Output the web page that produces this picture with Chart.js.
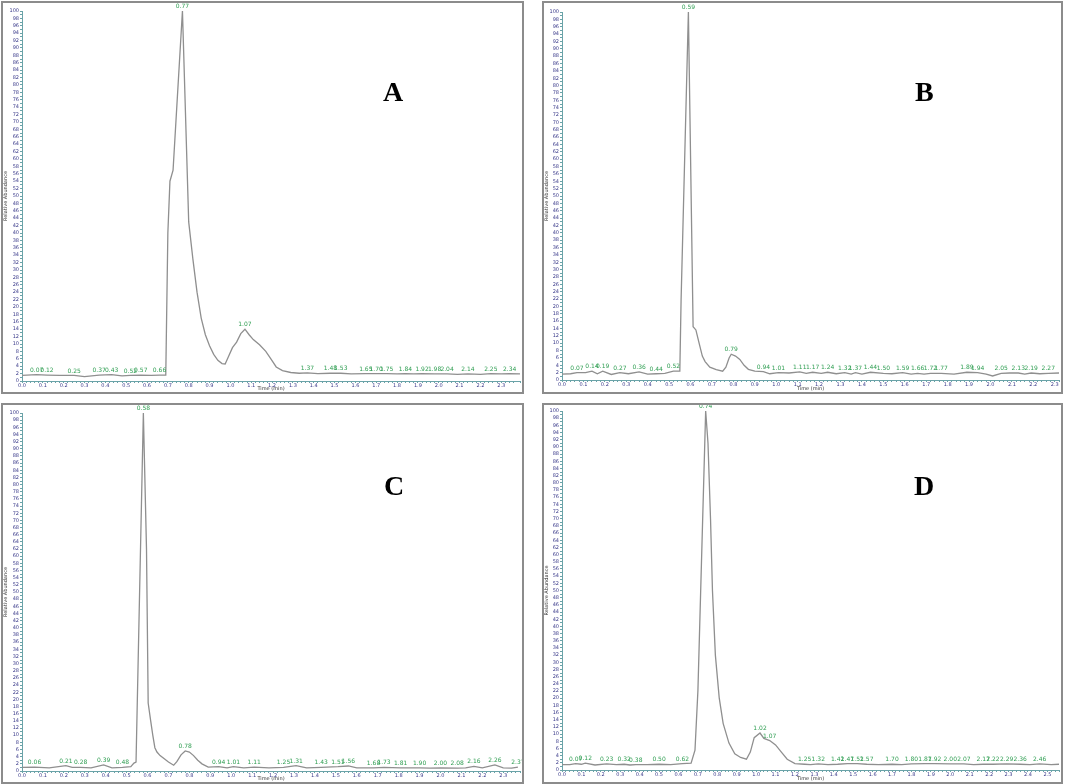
<!DOCTYPE html>
<html>
<head>
<meta charset="utf-8">
<script src="https://cdn.jsdelivr.net/npm/chart.js@4.4.1/dist/chart.umd.min.js"></script>
<style>
  body { margin: 0; background: #fff; width: 1065px; height: 784px; position: relative; overflow: hidden; }
  .panel { position: absolute; border: 2px solid #8c8c8c; box-sizing: border-box; }
  .panel canvas { position: absolute; left: 0; top: 0; }
  .tag { position: absolute; font: bold 28px "Liberation Serif", serif; color: #000; }
</style>
</head>
<body>
<div class="panel" style="left:1px;top:1px;width:523px;height:393px"><canvas id="chartA" width="519" height="389"></canvas></div>
<div class="panel" style="left:542px;top:1px;width:521px;height:393px"><canvas id="chartB" width="517" height="389"></canvas></div>
<div class="panel" style="left:1px;top:403px;width:523px;height:381px"><canvas id="chartC" width="519" height="377"></canvas></div>
<div class="panel" style="left:542px;top:403px;width:521px;height:381px"><canvas id="chartD" width="517" height="377"></canvas></div>
<div class="tag" style="left:383px;top:76px">A</div>
<div class="tag" style="left:915px;top:76px">B</div>
<div class="tag" style="left:384px;top:470px">C</div>
<div class="tag" style="left:914px;top:470px">D</div>
<script>
// retention time (min) and relative abundance
const timeA = [0.00, 0.07, 0.12, 0.18, 0.25, 0.30, 0.37, 0.43, 0.48, 0.52, 0.57, 0.62, 0.66, 0.69, 0.70, 0.71,
  0.725, 0.77, 0.80, 0.82, 0.84, 0.86, 0.88, 0.90, 0.92, 0.94, 0.96, 0.975, 0.99, 1.01, 1.03, 1.05, 1.07,
  1.09, 1.11, 1.14, 1.17, 1.20, 1.22, 1.25, 1.29, 1.33, 1.37, 1.42, 1.48, 1.53, 1.58, 1.65, 1.70, 1.75, 1.80,
  1.84, 1.88, 1.92, 1.98, 2.04, 2.09, 2.14, 2.20, 2.25, 2.30, 2.34, 2.39];
const abundA = [1.5, 1.7, 1.6, 1.5, 1.5, 1.2, 1.6, 1.7, 1.4, 1.5, 1.6, 1.5, 1.6, 1.6, 40, 54,
  57, 100, 43, 33, 24, 17, 12.5, 9.5, 7.2, 5.6, 4.7, 4.6, 6.5, 9, 10.5, 12.8, 14,
  12.5, 11.2, 9.8, 8, 5.5, 3.8, 2.8, 2.3, 2.1, 2.2, 2.0, 2.1, 2.1, 1.9, 2.0, 2.0, 2.0, 1.9,
  2.0, 1.9, 2.0, 1.9, 1.9, 1.8, 1.9, 1.8, 2.0, 1.9, 2.0, 1.9];
const peaksA = [0.07, 0.12, 0.25, 0.37, 0.43, 0.52, 0.57, 0.66, 0.77, 1.07, 1.37, 1.48, 1.53, 1.65, 1.70, 1.75,
  1.84, 1.92, 1.98, 2.04, 2.14, 2.25, 2.34];

const timeB = [0.00, 0.04, 0.07, 0.11, 0.14, 0.165, 0.19, 0.23, 0.27, 0.31, 0.36, 0.40, 0.44, 0.48, 0.52, 0.55,
  0.556, 0.59, 0.612, 0.625, 0.64, 0.655, 0.668, 0.69, 0.72, 0.75, 0.765, 0.78, 0.79, 0.81, 0.83, 0.85, 0.87,
  0.90, 0.94, 0.97, 1.01, 1.06, 1.11, 1.14, 1.17, 1.21, 1.24, 1.28, 1.32, 1.35, 1.37, 1.40, 1.44, 1.50, 1.54,
  1.59, 1.63, 1.66, 1.69, 1.72, 1.77, 1.83, 1.89, 1.94, 1.98, 2.01, 2.05, 2.09, 2.13, 2.16, 2.19, 2.23, 2.27,
  2.32];
const abundB = [1.6, 1.7, 2.0, 2.0, 2.4, 1.7, 2.4, 1.5, 2.0, 1.7, 2.2, 1.6, 1.7, 1.8, 2.4, 2.4,
  22, 100, 14.5, 13.6, 10, 6.5, 5, 3.5, 2.8, 2.4, 3.5, 6, 7, 6.5, 5.6, 4, 2.9,
  2.4, 2.3, 1.7, 2.0, 1.9, 2.2, 1.8, 2.1, 1.8, 2.1, 1.7, 2.0, 1.6, 2.0, 1.6, 2.1, 1.8, 1.7,
  2.0, 1.6, 1.8, 1.6, 1.8, 1.8, 1.6, 2.1, 2.0, 1.6, 1.1, 1.8, 1.9, 1.9, 1.6, 1.9, 1.7, 1.8,
  1.9];
const peaksB = [0.07, 0.14, 0.19, 0.27, 0.36, 0.44, 0.52, 0.59, 0.79, 0.94, 1.01, 1.11, 1.17, 1.24, 1.32, 1.37,
  1.44, 1.50, 1.59, 1.66, 1.72, 1.77, 1.89, 1.94, 2.05, 2.13, 2.19, 2.27];

const timeC = [0.00, 0.06, 0.13, 0.21, 0.24, 0.28, 0.33, 0.39, 0.43, 0.48, 0.52, 0.535, 0.545, 0.58, 0.595, 0.603,
  0.615, 0.625, 0.635, 0.645, 0.66, 0.68, 0.70, 0.725, 0.74, 0.76, 0.78, 0.80, 0.82, 0.84, 0.86, 0.89, 0.94,
  0.98, 1.01, 1.06, 1.11, 1.18, 1.25, 1.31, 1.36, 1.43, 1.51, 1.56, 1.60, 1.68, 1.73, 1.81, 1.90, 1.95, 2.00,
  2.08, 2.12, 2.16, 2.20, 2.26, 2.30, 2.34, 2.37];
const abundC = [1.0, 1.1, 0.9, 1.5, 1.0, 1.0, 0.9, 1.7, 0.9, 1.0, 1.2, 2.2, 2.5, 100, 62, 19,
  14, 10, 6.5, 5.3, 4.3, 3.4, 2.5, 1.6, 2.6, 4.5, 5.6, 5.3, 4.3, 3.0, 2.0, 1.1, 1.2,
  0.9, 1.2, 0.9, 1.1, 0.9, 1.0, 1.5, 0.9, 1.0, 1.2, 1.4, 0.9, 0.9, 1.0, 0.9, 0.9, 0.8, 0.9,
  0.8, 0.9, 1.3, 0.9, 1.7, 0.9, 0.8, 1.1];
const peaksC = [0.06, 0.21, 0.28, 0.39, 0.48, 0.58, 0.78, 0.94, 1.01, 1.11, 1.25, 1.31, 1.43, 1.51, 1.56, 1.68,
  1.73, 1.81, 1.90, 2.00, 2.08, 2.16, 2.26, 2.37];

const timeD = [0.00, 0.04, 0.07, 0.10, 0.12, 0.17, 0.23, 0.28, 0.32, 0.35, 0.38, 0.44, 0.50, 0.56, 0.62, 0.665,
  0.685, 0.70, 0.74, 0.752, 0.765, 0.775, 0.79, 0.81, 0.83, 0.86, 0.89, 0.92, 0.95, 0.97, 0.99, 1.02, 1.04,
  1.07, 1.10, 1.13, 1.16, 1.20, 1.25, 1.28, 1.32, 1.37, 1.42, 1.47, 1.52, 1.57, 1.63, 1.70, 1.75, 1.80, 1.87,
  1.92, 2.00, 2.07, 2.12, 2.17, 2.22, 2.29, 2.36, 2.41, 2.46, 2.52, 2.56];
const abundD = [1.5, 1.5, 1.8, 1.6, 1.9, 1.4, 1.7, 1.5, 1.6, 1.4, 1.5, 1.5, 1.6, 1.5, 1.8, 1.9,
  5.5, 22, 100, 91, 70, 50, 32, 20, 13, 7.5, 4.5, 3.5, 3.0, 5, 9, 10.3, 8.8,
  8.2, 7.0, 5.0, 3.0, 1.8, 1.6, 1.5, 1.7, 1.5, 1.6, 1.8, 1.8, 1.6, 1.5, 1.6, 1.5, 1.7, 1.8,
  1.8, 1.7, 1.7, 1.5, 1.6, 1.6, 1.7, 1.6, 1.5, 1.7, 1.5, 1.6];
const peaksD = [0.07, 0.12, 0.23, 0.32, 0.38, 0.50, 0.62, 0.74, 1.02, 1.07, 1.25, 1.32, 1.42, 1.47, 1.52, 1.57,
  1.70, 1.80, 1.87, 1.92, 2.00, 2.07, 2.17, 2.22, 2.29, 2.36, 2.46];

const xTitle = 'Time (min)';
const yTitle = 'Relative Abundance';

const axisColor = '#6aa3a8';
const tickText = '#3a3a8a';

// writes the retention time above each labelled point
const peakLabels = {
  id: 'peakLabels',
  afterDatasetsDraw(chart, args, opts) {
    const { ctx, scales: { x, y } } = chart;
    const pts = chart.data.datasets[0].data;
    ctx.save();
    ctx.font = '6px "DejaVu Sans", sans-serif';
    ctx.fillStyle = '#2f9e52';
    ctx.textAlign = 'center';
    ctx.textBaseline = 'bottom';
    for (const t of opts.times) {
      const p = pts.find(d => d.x === t);
      if (!p) continue;
      ctx.fillText(t.toFixed(2), x.getPixelForValue(t), y.getPixelForValue(p.y) - 1.5);
    }
    ctx.restore();
  }
};

function makeChart(id, times, values, peaks, cfg) {
  const data = times.map((t, i) => ({ x: t, y: values[i] }));
  return new Chart(document.getElementById(id), {
    type: 'line',
    data: {
      datasets: [{
        data: data,
        borderColor: '#8f8f8f',
        borderWidth: 1.3,
        pointRadius: 0,
        tension: 0,
        fill: false,
      }]
    },
    options: {
      responsive: false,
      animation: false,
      layout: { padding: { top: cfg.top, right: cfg.right, left: 0, bottom: 0 } },
      plugins: {
        legend: { display: false },
        tooltip: { enabled: false },
        peakLabels: { times: peaks },
      },
      scales: {
        x: {
          type: 'linear',
          min: 0,
          max: cfg.xmax,
          afterFit: s => { s.height = cfg.xh; },
          ticks: {
            stepSize: 0.02, autoSkip: false, maxRotation: 0, padding: 0,
            font: { size: 5, family: 'DejaVu Sans' }, color: tickText,
            callback: v => Math.round(v * 100) % 10 === 0 ? v.toFixed(1) : '',
          },
          grid: { drawOnChartArea: false, tickLength: 2, color: axisColor },
          border: { color: axisColor },
          title: { display: true, text: xTitle, font: { size: 5, family: 'DejaVu Sans' }, padding: 0, color: '#333' },
        },
        y: {
          min: 0,
          max: 100,
          afterFit: s => { s.width = cfg.yw; },
          ticks: {
            stepSize: 1, autoSkip: false, padding: 1,
            font: { size: 5, family: 'DejaVu Sans' }, color: tickText,
            callback: v => v % 2 === 0 ? String(v) : '',
          },
          grid: { drawOnChartArea: false, tickLength: 2, color: axisColor },
          border: { color: axisColor },
          title: { display: true, text: yTitle, font: { size: 5, family: 'DejaVu Sans' }, padding: 0, color: '#333' },
        }
      }
    },
    plugins: [peakLabels]
  });
}

makeChart('chartA', timeA, abundA, peaksA, { yw: 19, xh: 11, top: 8, right: 2, xmax: 2.39 });
makeChart('chartB', timeB, abundB, peaksB, { yw: 18, xh: 12, top: 9, right: 2, xmax: 2.32 });
makeChart('chartC', timeC, abundC, peaksC, { yw: 19, xh: 11, top: 8, right: 2, xmax: 2.38 });
makeChart('chartD', timeD, abundD, peaksD, { yw: 18, xh: 12, top: 6, right: 2, xmax: 2.56 });
</script>
</body>
</html>
